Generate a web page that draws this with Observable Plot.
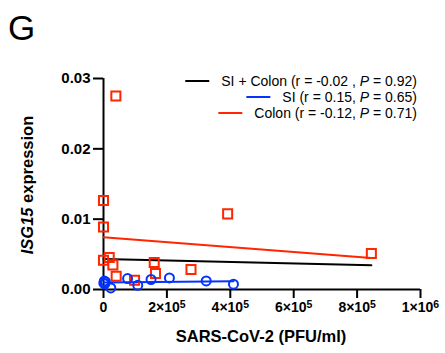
<!DOCTYPE html>
<html><head><meta charset="utf-8">
<script src="https://cdn.jsdelivr.net/npm/d3@7"></script>
<script src="https://cdn.jsdelivr.net/npm/@observablehq/plot@0.6"></script>
<style>
body{margin:0;background:#fff;font-family:"Liberation Sans",Arial,sans-serif;}
#wrap{position:relative;width:445px;height:353px;}
#panel{position:absolute;left:8px;top:8px;font-size:35px;line-height:40px;}
</style></head>
<body><div id="wrap"><div id="panel">G</div></div>
<script>
// Colon (red squares)
const colonX = [39000, 0, 0, 391600, 0, 18000, 29600, 40000, 98000, 160000, 164000, 276000, 845000];
const colonY = [0.0275, 0.01265, 0.0089, 0.01075, 0.00417, 0.00455, 0.0035, 0.00189, 0.00132, 0.00384, 0.00227, 0.00284, 0.00512];
// SI (blue circles)
const siX = [1000, 2500, 4000, 6000, 23000, 76000, 108000, 150000, 208000, 324000, 410000];
const siY = [0.0009, 0.0012, 0.0008, 0.0011, 0.00023, 0.00156, 0.0006, 0.00142, 0.00165, 0.00122, 0.00075];
const xTicks = [0, 200000, 400000, 600000, 800000, 1000000];
const yTicks = [0, 0.01, 0.02, 0.03];
const legendLabels = [
  ["SI + Colon (r = -0.02 , ", "P", " = 0.92)"],
  ["SI (r = 0.15, ", "P", " = 0.65)"],
  ["Colon (r = -0.12, ", "P", " = 0.71)"]
];
const RED = "#FF2600", BLUE = "#0433FF";

const colon = colonX.map((x, i) => ({x, y: colonY[i]}));
const si = siX.map((x, i) => ({x, y: siY[i]}));
const all = colon.concat(si);

function fmtX(v){
  if (v === 0) return "0";
  const e = Math.floor(Math.log10(v));
  return `${Math.round(v / 10 ** e)}×10^${e}`;
}

const font = {fontFamily: "Liberation Sans, Arial, sans-serif"};
const svg = Plot.plot({
  width: 445, height: 353,
  marginLeft: 103, marginRight: 25, marginTop: 78, marginBottom: 64,
  style: {...font, background: "transparent", overflow: "visible"},
  x: {domain: [0, 1000000]},
  y: {domain: [0, 0.03]},
  marks: [
    Plot.axisX({ticks: xTicks, tickFormat: fmtX, tickSize: 9, tickPadding: 4, strokeWidth: 2,
      fontSize: 14, fontWeight: "bold", fill: "black", label: null}),
    Plot.axisY({ticks: yTicks, tickFormat: d3.format(".2f"), tickSize: 10, tickPadding: 3, strokeWidth: 2,
      fontSize: 15, fontWeight: "bold", fill: "black", label: null}),
    Plot.ruleY([0], {stroke: "black", strokeWidth: 2}),
    Plot.ruleX([0], {stroke: "black", strokeWidth: 2}),
    Plot.linearRegressionY(all, {x: "x", y: "y", stroke: "black", strokeWidth: 2, ci: 0}),
    Plot.linearRegressionY(colon, {x: "x", y: "y", stroke: RED, strokeWidth: 2, ci: 0}),
    Plot.linearRegressionY(si, {x: "x", y: "y", stroke: BLUE, strokeWidth: 2, ci: 0}),
    Plot.dot(colon, {x: "x", y: "y", symbol: "square", r: 5.1, stroke: RED, strokeWidth: 2, fill: "none"}),
    Plot.dot(si, {x: "x", y: "y", r: 4.5, stroke: BLUE, strokeWidth: 2, fill: "none"})
  ]
});
svg.style.position = "absolute";
svg.style.left = "0px"; svg.style.top = "0px";
document.getElementById("wrap").appendChild(svg);

const s = d3.select(svg);
// superscript exponents on x tick labels
s.selectAll('g[aria-label="x-axis tick label"] text').each(function(){
  const t = d3.select(this);
  const str = t.text();
  if (!str.includes("^")) return;
  const [base, exp] = str.split("^");
  t.text(null);
  t.append("tspan").text(base);
  t.append("tspan").attr("dy", "-0.45em").attr("font-size", "0.75em").text(exp);
});
// axis titles
s.append("text").attr("x", 261).attr("y", 342).attr("text-anchor", "middle")
  .attr("font-size", 16.5).attr("font-weight", "bold").attr("fill", "black")
  .text("SARS-CoV-2 (PFU/ml)");
const yl = s.append("text").attr("transform", "translate(33,185) rotate(-90)").attr("text-anchor", "middle")
  .attr("font-size", 16.5).attr("font-weight", "bold").attr("fill", "black");
yl.append("tspan").attr("font-style", "italic").text("ISG15");
yl.append("tspan").text(" expression");

// legend
const legendColors = ["black", BLUE, RED];
const rowY = [81, 97, 113];
legendLabels.forEach((parts, i) => {
  const t = s.append("text").attr("x", 417).attr("y", rowY[i]).attr("dy", "0.35em")
    .attr("text-anchor", "end").attr("font-size", 14).attr("fill", "black");
  t.append("tspan").text(parts[0]);
  t.append("tspan").attr("font-style", "italic").text(parts[1]);
  t.append("tspan").text(parts[2]);
  const w = t.node().getComputedTextLength();
  const x0 = 417 - w - 12;
  s.append("line").attr("x1", x0 - 24).attr("x2", x0).attr("y1", rowY[i]).attr("y2", rowY[i])
    .attr("stroke", legendColors[i]).attr("stroke-width", 2);
});
</script></body></html>
